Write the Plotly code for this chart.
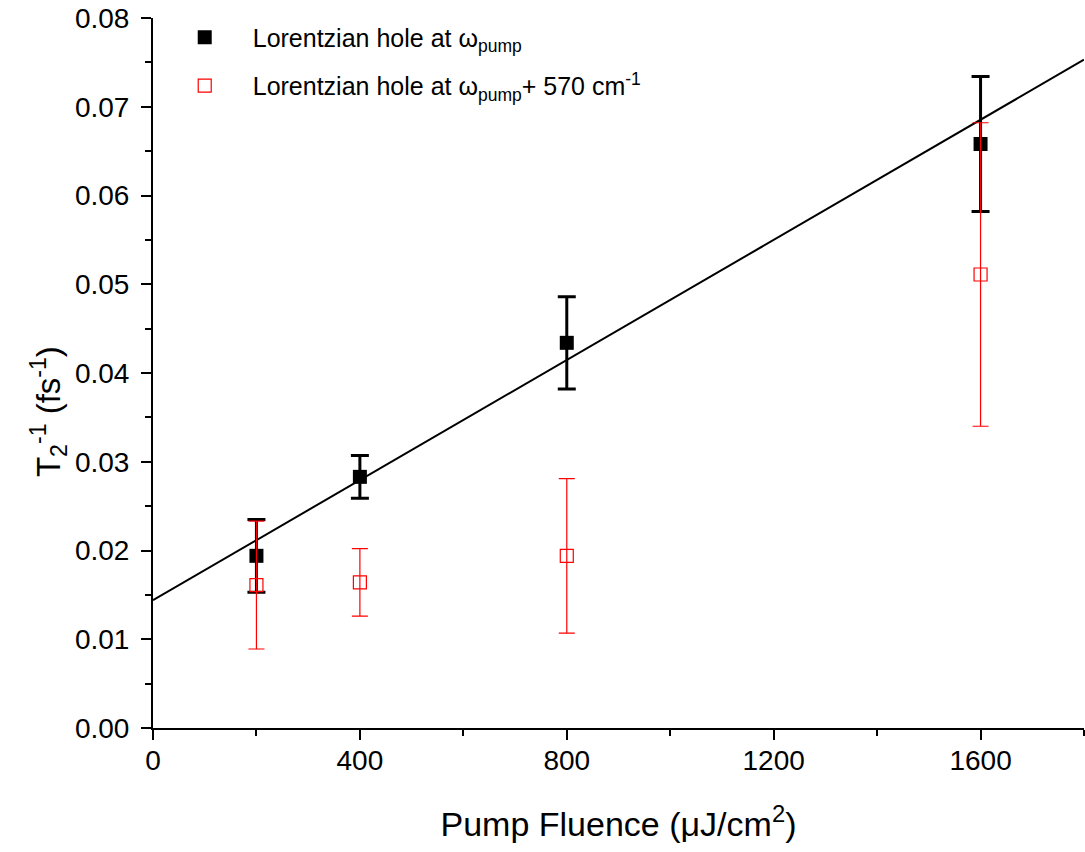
import plotly.graph_objects as go

fluence = [200, 400, 800, 1600]
t2_pump = [0.0194, 0.0283, 0.0434, 0.0658]
t2_pump_err = [0.0041, 0.0024, 0.0052, 0.0076]
t2_shift = [0.0161, 0.0164, 0.0194, 0.0511]
t2_shift_err = [0.0072, 0.0038, 0.0087, 0.0171]
fit_x = [0, 1800]
fit_y = [0.0144, 0.0753]

FONT = "Liberation Sans, Arial, sans-serif"

fig = go.Figure()
fig.add_trace(go.Scatter(
    x=fit_x, y=fit_y, mode="lines", line=dict(color="black", width=2),
    showlegend=False, hoverinfo="skip"))
fig.add_trace(go.Scatter(
    x=fluence, y=t2_pump, mode="markers", legendgroup="a",
    name="Lorentzian hole at ω<sub>pump</sub>",
    marker=dict(symbol="square", size=14, color="black"),
    error_y=dict(type="data", array=t2_pump_err, color="black", thickness=3, width=9)))
fig.add_trace(go.Scatter(
    x=fluence, y=t2_shift, mode="markers", legendgroup="b",
    name="Lorentzian hole at ω<sub>pump</sub>+ 570 cm<sup>-1</sup>",
    marker=dict(symbol="square-open", size=13, color="red", line=dict(width=1.2)),
    error_y=dict(type="data", array=t2_shift_err, color="red", thickness=1.2, width=8)))

fig.update_layout(
    width=1085, height=852,
    margin=dict(l=153, r=1, t=18, b=124),
    plot_bgcolor="white", paper_bgcolor="white",
    font=dict(family=FONT, color="black", size=20),
    legend=dict(x=0.004, y=1.005, xanchor="left", yanchor="top",
                font=dict(size=25, family=FONT), bgcolor="rgba(0,0,0,0)",
                itemwidth=86, traceorder="grouped", tracegroupgap=13),
    xaxis=dict(
        range=[0, 1800], tickvals=[0, 400, 800, 1200, 1600],
        showgrid=False, zeroline=False, showline=True, linecolor="black", linewidth=2,
        ticks="outside", ticklen=10, tickwidth=2, tickcolor="black",
        minor=dict(tickvals=[200, 600, 1000, 1400, 1800], ticks="outside", ticklen=6, tickwidth=2, tickcolor="black"),
        tickfont=dict(size=28), ticklabelstandoff=-4,
        title=dict(text="Pump Fluence (μJ/cm<sup>2</sup>)", font=dict(size=34), standoff=38),
    ),
    yaxis=dict(
        range=[0, 0.08], tickvals=[0, 0.01, 0.02, 0.03, 0.04, 0.05, 0.06, 0.07, 0.08],
        tickformat=".2f",
        showgrid=False, zeroline=False, showline=True, linecolor="black", linewidth=2,
        ticks="outside", ticklen=10, tickwidth=2, tickcolor="black",
        minor=dict(dtick=0.005, ticks="outside", ticklen=6, tickwidth=2, tickcolor="black"),
        tickfont=dict(size=28), ticklabelstandoff=6,
    ),
    annotations=[dict(
        text="T<sub>2</sub><sup>-1</sup> (fs<sup>-1</sup>)", textangle=-90,
        xref="paper", yref="paper", x=-0.112, y=0.446, xanchor="center", yanchor="middle",
        showarrow=False, font=dict(size=33, family=FONT, color="black"))],
)

fig.write_html("out.html")
